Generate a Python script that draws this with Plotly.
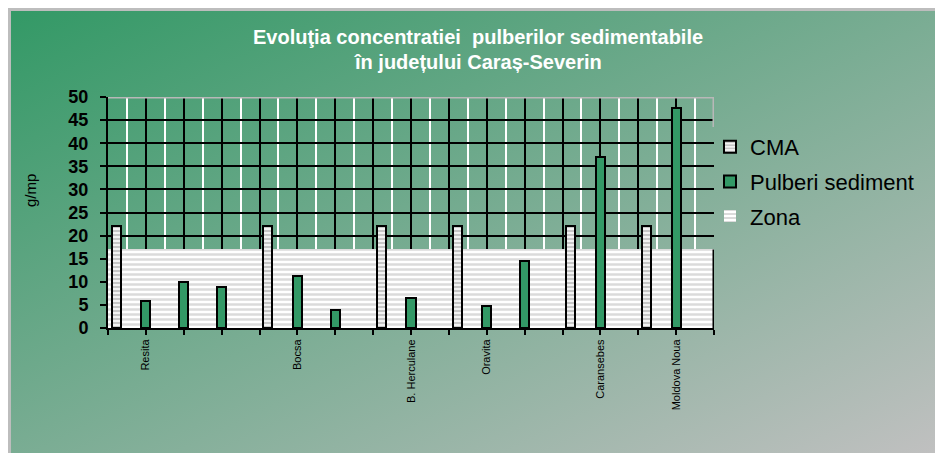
import base64
import plotly.graph_objects as go

# ---- data ----
labels = ["", "Resita", "", "", "", "Bocsa", "", "", "B. Herculane", "",
          "Oravita", "", "", "Caransebes", "", "Moldova Noua", ""]
cma = [22, None, None, None, 22, None, None, 22, None, 22,
       None, None, 22, None, 22, None, None]
pulberi = [None, 5.8, 9.9, 8.9, None, 11.2, 3.8, None, 6.6, None,
           4.7, 14.6, None, 37.1, None, 47.6, None]
zona = [17, 17, 17, 17, 17, 17, 17, 17, 17, 17,
        17, 17, 17, 17, 17, 17, None]
y_ticks = [0, 5, 10, 15, 20, 25, 30, 35, 40, 45, 50]

pos = list(range(len(labels)))

W, H = 935, 453
ML, MR, MT, MB = 108, 221, 97, 125
PW, PH = W - ML - MR, H - MT - MB

FONT = "Arial, 'Liberation Sans', sans-serif"
GREEN = "#339966"

# background: white page, grey frame, diagonal green->grey gradient
svg = f'''<svg xmlns="http://www.w3.org/2000/svg" width="{W}" height="{H}" viewBox="0 0 {W} {H}" preserveAspectRatio="none">
<defs><linearGradient id="g" x1="0" y1="0" x2="1" y2="1">
<stop offset="0" stop-color="#339966"/><stop offset="1" stop-color="#c0c0c0"/></linearGradient></defs>
<rect x="0" y="0" width="{W}" height="{H}" fill="#ffffff"/>
<rect x="8" y="8" width="{W-8}" height="{H-8}" fill="#bdbdbd"/>
<rect x="11" y="11" width="{W-11}" height="{H-11}" fill="url(#g)"/>
</svg>'''
src = "data:image/svg+xml;base64," + base64.b64encode(svg.encode()).decode()

fig = go.Figure()

fig.add_trace(go.Bar(
    x=pos, y=zona, name="Zona", width=1, offset=0,
    marker=dict(color="white", line=dict(width=0),
                pattern=dict(shape="-", fgcolor="#b8b8b8", bgcolor="white",
                             size=5, solidity=0.5)),
    legendrank=3, legendgroup="c",
))
fig.add_trace(go.Bar(
    x=pos, y=cma, name="CMA", width=0.24, offset=0.10,
    marker=dict(color="white", line=dict(width=2, color="black"),
                pattern=dict(shape="-", fgcolor="#999999", bgcolor="#f2f2f2",
                             size=4, solidity=0.5)),
    legendrank=1, legendgroup="a",
))
fig.add_trace(go.Bar(
    x=pos, y=pulberi, name="Pulberi sediment", width=0.24, offset=-0.12,
    marker=dict(color=GREEN, line=dict(width=2, color="black")),
    legendrank=2, legendgroup="b",
))

n = len(labels) - 1
fig.update_layout(
    width=W, height=H,
    margin=dict(l=ML, r=MR, t=MT, b=MB, pad=0),
    paper_bgcolor="white",
    plot_bgcolor="rgba(0,0,0,0)",
    barmode="overlay",
    bargap=0,
    font=dict(family=FONT, color="black"),
    showlegend=True,
    legend=dict(x=(710 - ML) / PW, xanchor="left", y=(MT + PH - 126) / PH, yanchor="top",
                bgcolor="rgba(0,0,0,0)", font=dict(size=22, color="black"),
                tracegroupgap=3, itemwidth=30),
    images=[dict(source=src, xref="paper", yref="paper",
                 x=-ML / PW, y=(PH + MT) / PH, sizex=W / PW, sizey=H / PH,
                 xanchor="left", yanchor="top", sizing="stretch", layer="below")],
    xaxis=dict(range=[0, n], tickmode="array", tickvals=pos, ticktext=labels,
               tickangle=-90, tickfont=dict(size=11, color="black"),
               ticks="outside", ticklen=5, tickwidth=2, tickcolor="black",
               showgrid=True, gridcolor="black", gridwidth=2,
               minor=dict(dtick=1, tick0=0.5, showgrid=True, gridcolor="white",
                          gridwidth=2, ticks=""),
               showline=True, linecolor="black", linewidth=2,
               zeroline=False, fixedrange=True),
    yaxis=dict(range=[0, 50], tickmode="array", tickvals=y_ticks,
               tickfont=dict(size=18, color="black", family=FONT, weight="bold"),
               ticks="outside", ticklen=6, tickwidth=2, tickcolor="black",
               ticklabelstandoff=8,
               showgrid=True, gridcolor="black", gridwidth=2,
               showline=True, linecolor="black", linewidth=2, zeroline=False,
               fixedrange=True),
    annotations=[
        dict(text="<b>Evoluţia concentratiei  pulberilor sedimentabile</b>",
             xref="paper", yref="paper", x=(478 - ML) / PW, y=(MT + PH - 37) / PH,
             xanchor="center", yanchor="middle", showarrow=False,
             font=dict(size=20, color="white", family=FONT)),
        dict(text="<b>în județului Caraș-Severin</b>",
             xref="paper", yref="paper", x=(478 - ML) / PW, y=(MT + PH - 62) / PH,
             xanchor="center", yanchor="middle", showarrow=False,
             font=dict(size=20, color="white", family=FONT)),
        dict(text="g/mp", textangle=-90,
             xref="paper", yref="paper", x=(30 - ML) / PW, y=(MT + PH - 191) / PH,
             xanchor="center", yanchor="middle", showarrow=False,
             font=dict(size=15, color="black", family=FONT)),
    ],
    shapes=[
        dict(type="line", xref="x", yref="y", x0=0, x1=n, y0=50, y1=50,
             line=dict(color="#b8b8b8", width=3), layer="above"),
        dict(type="line", xref="x", yref="y", x0=n, x1=n, y0=43.5, y1=50,
             line=dict(color="#b8b8b8", width=3), layer="above"),
        dict(type="line", xref="x", yref="y", x0=n, x1=n, y0=0, y1=17,
             line=dict(color="black", width=3), layer="above"),
    ],
)

fig.write_html("out.html", config={"displayModeBar": False},
               post_script="document.body.style.margin='0';document.body.style.padding='0';")
